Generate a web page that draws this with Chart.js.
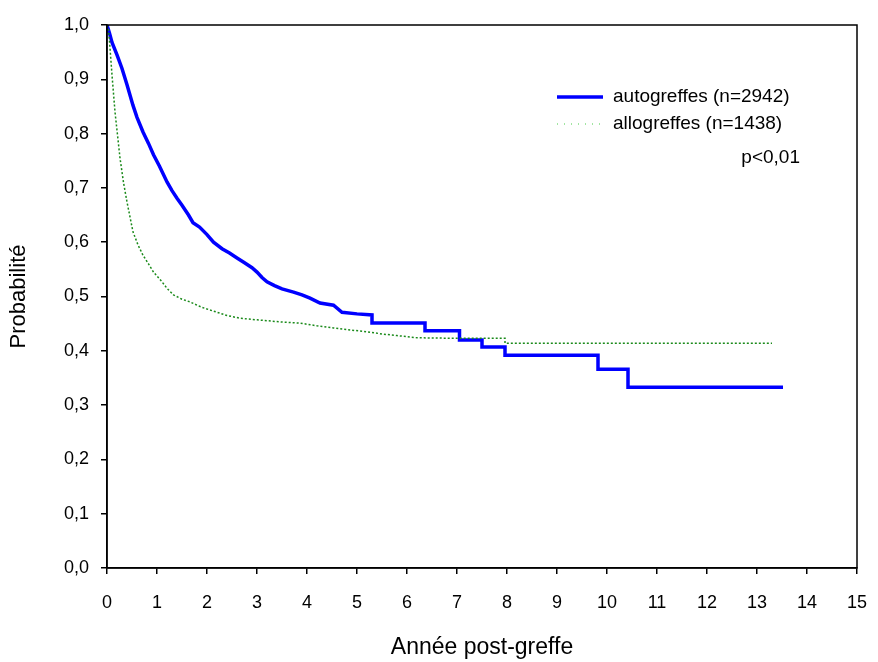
<!DOCTYPE html>
<html>
<head>
<meta charset="utf-8">
<script src="https://cdn.jsdelivr.net/npm/chart.js@4.4.1/dist/chart.umd.min.js"></script>
<style>
  html, body { margin: 0; padding: 0; background: #fff; }
  #wrap { width: 878px; height: 662px; }
</style>
</head>
<body>
<div id="wrap"><canvas id="km"></canvas></div>
<script>
// --- data (years, survival probability) ---
// a repeated time = a vertical drop of the Kaplan-Meier curve
const autoTimes = [0, 0.05, 0.1, 0.2, 0.3, 0.4, 0.52, 0.6, 0.72, 0.83, 0.93, 1.05, 1.2, 1.3, 1.4, 1.5, 1.63, 1.72, 1.85, 2.0, 2.13, 2.3, 2.45, 2.6, 2.75, 2.9, 3.0, 3.1, 3.2, 3.35, 3.5, 3.73, 3.9, 4.06, 4.26, 4.53, 4.7, 5.0, 5.3, 5.3, 6.36, 6.36, 7.05, 7.05, 7.5, 7.5, 7.96, 7.96, 9.82, 9.82, 10.42, 10.42, 13.52];
const autoSurv  = [1.0, 0.985, 0.968, 0.945, 0.92, 0.89, 0.852, 0.83, 0.803, 0.782, 0.761, 0.74, 0.711, 0.695, 0.681, 0.668, 0.65, 0.636, 0.628, 0.614, 0.6, 0.588, 0.58, 0.571, 0.562, 0.553, 0.545, 0.535, 0.527, 0.52, 0.514, 0.508, 0.503, 0.497, 0.488, 0.484, 0.471, 0.468, 0.466, 0.451, 0.451, 0.437, 0.437, 0.42, 0.42, 0.407, 0.407, 0.392, 0.392, 0.366, 0.366, 0.333, 0.333];

const alloTimes = [0, 0.03, 0.05, 0.1, 0.16, 0.26, 0.33, 0.4, 0.52, 0.62, 0.72, 0.83, 0.93, 1.1, 1.2, 1.33, 1.5, 1.66, 1.9, 2.2, 2.4, 2.66, 3.0, 3.5, 3.86, 4.2, 4.53, 4.9, 5.2, 5.5, 5.8, 6.2, 7.0, 7.96, 7.96, 13.3];
const alloSurv  = [1.0, 0.99, 0.97, 0.908, 0.84, 0.755, 0.71, 0.674, 0.619, 0.595, 0.576, 0.56, 0.545, 0.527, 0.515, 0.503, 0.495, 0.49, 0.48, 0.471, 0.465, 0.46, 0.457, 0.453, 0.451, 0.446, 0.442, 0.438, 0.435, 0.431, 0.428, 0.424, 0.423, 0.423, 0.414, 0.414];

const seriesLabels = ['autogreffes (n=2942)', 'allogreffes (n=1438)'];
const pValueText = 'p<0,01';

const xTicks = [0, 1, 2, 3, 4, 5, 6, 7, 8, 9, 10, 11, 12, 13, 14, 15];
const yTicks = [0, 0.1, 0.2, 0.3, 0.4, 0.5, 0.6, 0.7, 0.8, 0.9, 1.0];

const FONT = 'Arial, "Liberation Sans", sans-serif';
const BLUE = '#0000ff';
const GREEN = '#1a8a1a';

const toPoints = (ts, ss) => ts.map((t, i) => ({ x: t, y: ss[i] }));

// frame + legend drawn inside the plot
const framePlugin = {
    id: 'frameAndLegend',
    afterDraw(chart) {
        const { ctx, chartArea: a } = chart;
        ctx.save();
        ctx.strokeStyle = '#000';
        ctx.lineWidth = 1.5;
        ctx.strokeRect(a.left, a.top, a.right - a.left, a.bottom - a.top);

        // legend
        const lx = a.left + 450, ly = a.top + 72;
        ctx.lineWidth = 3.5;
        ctx.strokeStyle = BLUE;
        ctx.beginPath(); ctx.moveTo(lx, ly); ctx.lineTo(lx + 46, ly); ctx.stroke();

        ctx.lineWidth = 1;
        ctx.strokeStyle = '#44cc44';
        ctx.setLineDash([1, 6]);
        ctx.beginPath(); ctx.moveTo(lx, ly + 27); ctx.lineTo(lx + 46, ly + 27); ctx.stroke();
        ctx.setLineDash([]);

        ctx.fillStyle = '#000';
        ctx.font = '19px ' + FONT;
        ctx.textBaseline = 'middle';
        ctx.textAlign = 'left';
        ctx.fillText(seriesLabels[0], lx + 56, ly);
        ctx.fillText(seriesLabels[1], lx + 56, ly + 27);
        ctx.textAlign = 'right';
        ctx.fillText(pValueText, a.left + 693, ly + 61);
        ctx.restore();
    }
};

new Chart(document.getElementById('km'), {
    type: 'scatter',
    data: {
        datasets: [
            {
                label: seriesLabels[1],
                data: toPoints(alloTimes, alloSurv),
                showLine: true,
                borderColor: GREEN,
                borderWidth: 1.5,
                borderDash: [2, 2],
                pointRadius: 0
            },
            {
                label: seriesLabels[0],
                data: toPoints(autoTimes, autoSurv),
                showLine: true,
                borderColor: BLUE,
                borderWidth: 3.5,
                pointRadius: 0
            }
        ]
    },
    options: {
        responsive: true,
        maintainAspectRatio: false,
        animation: false,
        layout: { padding: { top: 25, right: 21, left: 0, bottom: 0 } },
        plugins: { legend: { display: false }, tooltip: { enabled: false } },
        scales: {
            x: {
                type: 'linear',
                min: 0, max: 15,
                afterBuildTicks: s => { s.ticks = xTicks.map(v => ({ value: v })); },
                afterFit: s => { s.height = 94; s.paddingLeft = 0; s.paddingRight = 0; },
                grid: { drawOnChartArea: false, tickLength: 6, color: '#000', lineWidth: 1.5 },
                border: { color: '#000', width: 1.5 },
                ticks: { color: '#000', font: { family: FONT, size: 18 }, padding: 18, maxRotation: 0 },
                title: { display: true, text: 'Année post-greffe', color: '#000', font: { family: FONT, size: 23 }, padding: { top: 0, bottom: 1 } }
            },
            y: {
                type: 'linear',
                min: 0, max: 1,
                afterBuildTicks: s => { s.ticks = yTicks.map(v => ({ value: v })); },
                afterFit: s => { s.width = 107; s.paddingTop = 0; s.paddingBottom = 0; },
                grid: { drawOnChartArea: false, tickLength: 6, color: '#000', lineWidth: 1.5 },
                border: { color: '#000', width: 1.5 },
                ticks: { color: '#000', font: { family: FONT, size: 18 }, padding: 12,
                    callback: v => v.toFixed(1).replace('.', ',') },
                title: { display: true, text: 'Probabilité', color: '#000', font: { family: FONT, size: 22 }, padding: { top: 6, bottom: 0 } }
            }
        }
    },
    plugins: [framePlugin]
});
</script>
</body>
</html>
